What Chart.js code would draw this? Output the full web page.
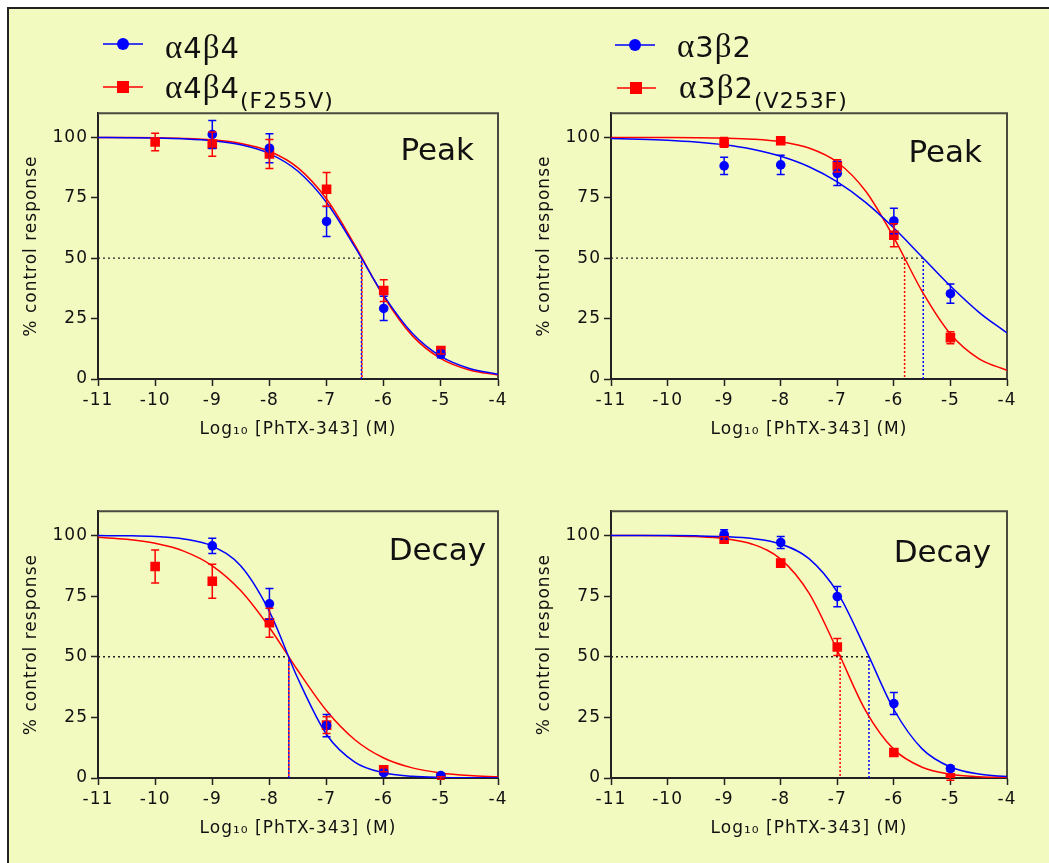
<!DOCTYPE html>
<html>
<head>
<meta charset="utf-8">
<script src="https://cdn.jsdelivr.net/npm/chart.js@4.4.0/dist/chart.umd.min.js"></script>
<style>
  html, body { margin: 0; padding: 0; width: 1049px; height: 863px; overflow: hidden; background: #fff; }
  #frame { position: absolute; left: 7px; top: 7px; width: 1100px; height: 900px; border: 2px solid #222; background: #F3FAC0; }
  canvas { position: absolute; }
  #overlay { position: absolute; left: 0; top: 0; }
  #overlay text { font-family: "DejaVu Sans", sans-serif; fill: #111; }
  .greek { font-family: "Liberation Serif", "DejaVu Serif", serif; }
</style>
</head>
<body>
<div id="frame"></div>
<canvas id="peakA4B4"></canvas>
<canvas id="peakA3B2"></canvas>
<canvas id="decayA4B4"></canvas>
<canvas id="decayA3B2"></canvas>

<svg id="overlay" width="1049" height="863">
  <!-- legend, left column -->
  <line x1="103" y1="44" x2="143" y2="44" stroke="#0000FF" stroke-width="1.6"/>
  <circle cx="123" cy="44" r="6" fill="#0000FF"/>
  <text x="165" y="57.5" font-size="29" letter-spacing="1"><tspan class="greek" font-size="33">α</tspan>4<tspan class="greek" font-size="33">β</tspan>4</text>
  <line x1="103" y1="87" x2="143" y2="87" stroke="#FF0000" stroke-width="1.6"/>
  <rect x="117" y="81" width="12" height="12" fill="#FF0000"/>
  <text x="165" y="97.5" font-size="29" letter-spacing="1"><tspan class="greek" font-size="33">α</tspan>4<tspan class="greek" font-size="33">β</tspan>4<tspan font-size="22" dy="10">(F255V)</tspan></text>

  <!-- legend, right column -->
  <line x1="615" y1="45" x2="655" y2="45" stroke="#0000FF" stroke-width="1.6"/>
  <circle cx="635" cy="45" r="6" fill="#0000FF"/>
  <text x="677" y="57" font-size="29" letter-spacing="1"><tspan class="greek" font-size="33">α</tspan>3<tspan class="greek" font-size="33">β</tspan>2</text>
  <line x1="617" y1="88" x2="656" y2="88" stroke="#FF0000" stroke-width="1.6"/>
  <rect x="630" y="82" width="12" height="12" fill="#FF0000"/>
  <text x="679" y="98" font-size="29" letter-spacing="1"><tspan class="greek" font-size="33">α</tspan>3<tspan class="greek" font-size="33">β</tspan>2<tspan font-size="22" dy="10">(V253F)</tspan></text>

  <!-- panel labels -->
  <text x="474" y="159.5" font-size="31" text-anchor="end">Peak</text>
  <text x="982" y="161.5" font-size="31" text-anchor="end">Peak</text>
  <text x="486" y="560" font-size="31" text-anchor="end">Decay</text>
  <text x="991" y="561.5" font-size="31" text-anchor="end">Decay</text>
</svg>

<script>
// shared axis values
const curveX = [-11, -10.5, -10, -9.5, -9, -8.5, -8, -7.5, -7, -6.5, -6, -5.5, -5, -4.5, -4];
const xTicks = [-11, -10, -9, -8, -7, -6, -5, -4];
const yTicks = [0, 25, 50, 75, 100];

// α4β4 peak
const a4b4PeakWtX = [-9, -8, -7, -6, -5];
const a4b4PeakWtY = [101.2, 95.5, 65.2, 29.2, 10.3];
const a4b4PeakWtErr = [5.8, 6.0, 6.2, 5.0, 1.5];
const a4b4PeakMutX = [-10, -9, -8, -7, -6, -5];
const a4b4PeakMutY = [98.1, 97.2, 93.1, 78.5, 36.6, 11.8];
const a4b4PeakMutErr = [3.6, 5.0, 6.0, 7.0, 4.5, 1.5];
const a4b4PeakWtFit = [99.95, 99.88, 99.73, 99.38, 98.62, 96.92, 93.29, 85.98, 73.04, 54.50, 34.58, 18.92, 9.35, 4.35, 1.97];
const a4b4PeakMutFit = [99.97, 99.92, 99.81, 99.55, 98.93, 97.49, 94.25, 87.37, 74.47, 55.16, 34.15, 17.95, 8.45, 3.74, 1.61];
const a4b4PeakIc50 = [-6.39, -6.38];

// α3β2 peak
const a3b2PeakWtX = [-9, -8, -7, -6, -5];
const a3b2PeakWtY = [88.2, 88.6, 85.1, 65.4, 35.3];
const a3b2PeakWtErr = [3.6, 4.0, 5.0, 5.3, 4.0];
const a3b2PeakMutX = [-9, -8, -7, -6, -5];
const a3b2PeakMutY = [97.9, 98.6, 88.2, 59.5, 17.1];
const a3b2PeakMutErr = [2.0, 1.5, 2.5, 4.8, 2.5];
const a3b2PeakWtFit = [99.55, 99.27, 98.82, 98.08, 96.91, 95.05, 92.17, 87.84, 81.57, 73.07, 62.46, 50.49, 38.46, 27.70, 19.03];
const a3b2PeakMutFit = [99.99, 99.98, 99.95, 99.88, 99.70, 99.26, 98.17, 95.58, 89.70, 77.80, 58.55, 36.26, 18.64, 8.45, 3.58];
const a3b2PeakIc50 = [-5.48, -5.81];

// α4β4 decay
const a4b4DecayWtX = [-9, -8, -7, -6, -5];
const a4b4DecayWtY = [95.7, 71.8, 21.6, 2.2, 1.0];
const a4b4DecayWtErr = [3.1, 6.3, 4.6, 0.8, 0.5];
const a4b4DecayMutX = [-10, -9, -8, -7, -6, -5];
const a4b4DecayMutY = [87.2, 81.1, 64.0, 21.8, 3.4, 0.0];
const a4b4DecayMutErr = [6.8, 7.0, 6.0, 3.5, 0.8, 0.5];
const a4b4DecayWtFit = [99.95, 99.86, 99.55, 98.58, 95.63, 87.37, 68.63, 40.90, 17.95, 6.47, 2.14, 0.69, 0.22, 0.07, 0.02];
const a4b4DecayMutFit = [99.22, 98.40, 96.75, 93.52, 87.47, 77.17, 62.07, 44.21, 27.73, 15.67, 8.25, 4.17, 2.07, 1.01, 0.49];
const a4b4DecayIc50 = [-7.66, -7.66];

// α3β2 decay
const a3b2DecayWtX = [-9, -8, -7, -6, -5];
const a3b2DecayWtY = [100.4, 97.1, 74.8, 30.7, 3.9];
const a3b2DecayWtErr = [2.0, 2.5, 4.2, 4.5, 1.0];
const a3b2DecayMutX = [-9, -8, -7, -6, -5];
const a3b2DecayMutY = [98.5, 88.6, 54.0, 10.5, 0.1];
const a3b2DecayMutErr = [1.0, 1.5, 3.5, 1.5, 1.0];
const a3b2DecayWtFit = [99.99, 99.98, 99.95, 99.85, 99.56, 98.74, 96.46, 90.42, 76.60, 53.16, 28.24, 12.00, 4.52, 1.61, 0.57];
const a3b2DecayMutFit = [99.98, 99.95, 99.84, 99.55, 98.72, 96.39, 90.24, 76.22, 52.66, 27.82, 11.79, 4.43, 1.58, 0.55, 0.19];
const a3b2DecayIc50 = [-6.44, -6.95];

const BLUE = '#0000FF';
const RED = '#FF0000';

// where each plot area sits on the page
const Y_AXIS_W = 81, X_AXIS_H = 65, PAD_TOP = 13, PAD_RIGHT = 22;

Chart.defaults.font.family = '"DejaVu Sans", sans-serif';
Chart.defaults.color = '#111';

const zip = (xs, ys) => xs.map((x, i) => ({ x: x, y: ys[i] }));

// letter spacing like the original export
const spacing = {
    id: 'spacing',
    beforeDraw(chart) { chart.ctx.letterSpacing = '1px'; }
};

// top and right edge of the plot box
const frameBox = {
    id: 'frameBox',
    beforeDatasetsDraw(chart) {
        const a = chart.chartArea, ctx = chart.ctx;
        ctx.save();
        ctx.strokeStyle = '#4a4a40';
        ctx.lineWidth = 2;
        ctx.beginPath();
        ctx.moveTo(a.left, a.top);
        ctx.lineTo(a.right, a.top);
        ctx.lineTo(a.right, a.bottom);
        ctx.stroke();
        ctx.restore();
    }
};

// SEM error bars
const errorBars = {
    id: 'errorBars',
    afterDatasetsDraw(chart) {
        const ctx = chart.ctx, xs = chart.scales.x, ys = chart.scales.y;
        chart.data.datasets.forEach(ds => {
            if (!ds.errors) return;
            ctx.save();
            ctx.strokeStyle = ds.borderColor;
            ctx.lineWidth = 1.5;
            ds.data.forEach((p, j) => {
                const e = ds.errors[j];
                const px = xs.getPixelForValue(p.x);
                const top = ys.getPixelForValue(p.y + e);
                const bot = ys.getPixelForValue(p.y - e);
                ctx.beginPath();
                ctx.moveTo(px, top); ctx.lineTo(px, bot);
                ctx.moveTo(px - 4, top); ctx.lineTo(px + 4, top);
                ctx.moveTo(px - 4, bot); ctx.lineTo(px + 4, bot);
                ctx.stroke();
            });
            ctx.restore();
        });
    }
};

function makePanel(id, area, s) {
    const canvas = document.getElementById(id);
    canvas.width = area.R - area.L + Y_AXIS_W + PAD_RIGHT;
    canvas.height = area.B - area.T + PAD_TOP + X_AXIS_H;
    canvas.style.left = (area.L - Y_AXIS_W) + 'px';
    canvas.style.top = (area.T - PAD_TOP) + 'px';

    const halfX = Math.max(s.ic50[0], s.ic50[1]);
    const datasets = [
        { data: zip(s.wtX, s.wtY), errors: s.wtErr, pointStyle: 'circle', pointRadius: 4.8,
          backgroundColor: BLUE, borderColor: BLUE, borderWidth: 0, showLine: false },
        { data: zip(s.mutX, s.mutY), errors: s.mutErr, pointStyle: 'rect', pointRadius: 6.8,
          backgroundColor: RED, borderColor: RED, borderWidth: 0, showLine: false },
        { data: zip(curveX, s.wtFit), showLine: true, borderColor: BLUE, borderWidth: 1.5,
          pointRadius: 0, cubicInterpolationMode: 'monotone' },
        { data: zip(curveX, s.mutFit), showLine: true, borderColor: RED, borderWidth: 1.5,
          pointRadius: 0, cubicInterpolationMode: 'monotone' },
        { data: [{ x: -11, y: 50 }, { x: halfX, y: 50 }], showLine: true, borderColor: '#222',
          borderWidth: 1.3, borderDash: [2, 3], pointRadius: 0 },
        { data: [{ x: s.ic50[0], y: 0 }, { x: s.ic50[0], y: 50 }], showLine: true, borderColor: BLUE,
          borderWidth: 1.5, borderDash: [2, 2], pointRadius: 0 },
        { data: [{ x: s.ic50[1], y: 0 }, { x: s.ic50[1], y: 50 }], showLine: true, borderColor: RED,
          borderWidth: 1.5, borderDash: [2, 2], borderDashOffset: 2, pointRadius: 0 }
    ];

    return new Chart(canvas, {
        type: 'scatter',
        data: { datasets: datasets },
        plugins: [spacing, frameBox, errorBars],
        options: {
            responsive: false,
            animation: false,
            devicePixelRatio: 1,
            layout: { padding: { top: PAD_TOP, right: PAD_RIGHT, left: 0, bottom: 0 } },
            plugins: { legend: { display: false }, tooltip: { enabled: false } },
            scales: {
                x: {
                    type: 'linear', min: -11, max: -4,
                    afterBuildTicks: sc => { sc.ticks = xTicks.map(v => ({ value: v })); },
                    afterFit: sc => { sc.height = X_AXIS_H; },
                    ticks: { font: { size: 17 }, color: '#111', padding: 4, autoSkip: false, maxRotation: 0 },
                    grid: { drawOnChartArea: false, tickLength: 7, tickWidth: 1.5, tickColor: '#222' },
                    border: { color: '#222', width: 2 },
                    title: { display: true, text: 'Log₁₀ [PhTX-343] (M)', font: { size: 17 }, color: '#111',
                             padding: { top: 4, bottom: 4 } }
                },
                y: {
                    type: 'linear', min: 0, max: 110,
                    afterBuildTicks: sc => { sc.ticks = yTicks.map(v => ({ value: v })); },
                    afterFit: sc => { sc.width = Y_AXIS_W; },
                    ticks: { font: { size: 17 }, color: '#111', padding: 3 },
                    grid: { drawOnChartArea: false, tickLength: 7, tickWidth: 1.5, tickColor: '#222' },
                    border: { color: '#222', width: 2 },
                    title: { display: true, text: '% control response', font: { size: 17 }, color: '#111',
                             padding: { top: 4, bottom: 4 } }
                }
            }
        }
    });
}

makePanel('peakA4B4', { L: 98, R: 498, T: 113, B: 379 }, {
    wtX: a4b4PeakWtX, wtY: a4b4PeakWtY, wtErr: a4b4PeakWtErr,
    mutX: a4b4PeakMutX, mutY: a4b4PeakMutY, mutErr: a4b4PeakMutErr,
    wtFit: a4b4PeakWtFit, mutFit: a4b4PeakMutFit, ic50: a4b4PeakIc50
});
makePanel('peakA3B2', { L: 611, R: 1007, T: 113, B: 379 }, {
    wtX: a3b2PeakWtX, wtY: a3b2PeakWtY, wtErr: a3b2PeakWtErr,
    mutX: a3b2PeakMutX, mutY: a3b2PeakMutY, mutErr: a3b2PeakMutErr,
    wtFit: a3b2PeakWtFit, mutFit: a3b2PeakMutFit, ic50: a3b2PeakIc50
});
makePanel('decayA4B4', { L: 98, R: 498, T: 511, B: 778 }, {
    wtX: a4b4DecayWtX, wtY: a4b4DecayWtY, wtErr: a4b4DecayWtErr,
    mutX: a4b4DecayMutX, mutY: a4b4DecayMutY, mutErr: a4b4DecayMutErr,
    wtFit: a4b4DecayWtFit, mutFit: a4b4DecayMutFit, ic50: a4b4DecayIc50
});
makePanel('decayA3B2', { L: 611, R: 1007, T: 511, B: 778 }, {
    wtX: a3b2DecayWtX, wtY: a3b2DecayWtY, wtErr: a3b2DecayWtErr,
    mutX: a3b2DecayMutX, mutY: a3b2DecayMutY, mutErr: a3b2DecayMutErr,
    wtFit: a3b2DecayWtFit, mutFit: a3b2DecayMutFit, ic50: a3b2DecayIc50
});
</script>
</body>
</html>
